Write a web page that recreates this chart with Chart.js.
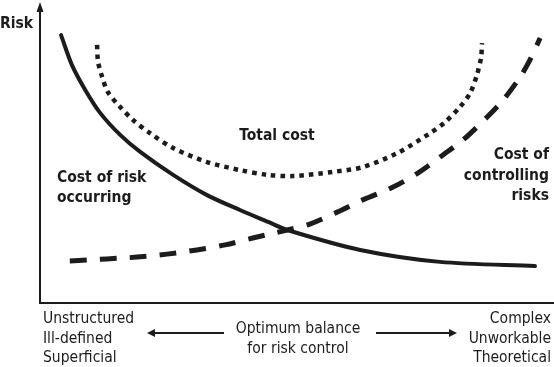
<!DOCTYPE html>
<html>
<head>
<meta charset="utf-8">
<script src="https://cdn.jsdelivr.net/npm/chart.js@4"></script>
<style>
  body { margin: 0; background: #fff; }
  #wrap { width: 554px; height: 367px; position: relative; }
</style>
</head>
<body>
<div id="wrap"><canvas id="riskChart"></canvas></div>
<script>
// curves (x = spread of control, y = risk / cost, both 0..100)
var riskX   = [4.1, 6.2, 8.8, 11.7, 15.6, 19.5, 25.9, 32.5, 38.9, 44.4, 48.1, 62.3, 77.8, 96.3];
var riskY   = [89.9, 79.9, 71.5, 63.8, 56.4, 50.7, 43.0, 36.2, 31.2, 27.2, 24.5, 17.8, 13.8, 12.4];

var controlX = [5.8, 13.0, 18.9, 24.7, 30.5, 36.0, 41.4, 48.1, 52.5, 57.8, 62.8, 68.7, 73.5, 78.4, 82.3, 87.0, 90.1, 93.4, 95.3, 97.3];
var controlY = [14.1, 14.8, 15.4, 16.4, 17.8, 19.5, 21.8, 24.5, 26.5, 30.5, 34.6, 38.9, 43.6, 49.7, 54.7, 62.4, 68.1, 75.8, 81.5, 88.9];

var totalX = [11.1, 11.3, 12.1, 13.2, 15.6, 18.1, 21.4, 25.9, 32.5, 38.9, 44.2, 49.2, 57.0, 62.8, 69.5, 75.9, 78.8, 81.7, 83.7, 85.0, 85.8, 86.0];
var totalY = [86.6, 80.9, 75.8, 70.8, 65.8, 61.4, 57.0, 52.0, 47.3, 44.6, 43.0, 42.6, 44.0, 45.6, 50.3, 57.0, 60.7, 65.8, 70.5, 76.5, 82.2, 87.2];

var leftWords  = ["Unstructured", "Ill-defined", "Superficial"];
var rightWords = ["Complex", "Unworkable", "Theoretical"];
var midWords   = ["Optimum balance", "for risk control"];

function toPoints(xs, ys) {
  return xs.map(function (x, i) { return { x: x, y: ys[i] }; });
}

var ink = "#1c1c1c";
var font = "'DejaVu Sans Condensed', 'DejaVu Sans', sans-serif";

function arrowHead(ctx, x, y, dir) {
  ctx.beginPath();
  ctx.moveTo(x, y);
  ctx.lineTo(x - dir * 8, y - 4);
  ctx.lineTo(x - dir * 8, y + 4);
  ctx.closePath();
  ctx.fill();
}

var decorations = {
  id: "decorations",
  afterDraw: function (chart) {
    var ctx = chart.ctx;
    var a = chart.chartArea;
    ctx.save();
    ctx.strokeStyle = ink;
    ctx.fillStyle = ink;
    ctx.lineWidth = 2;

    // axes
    ctx.beginPath();
    ctx.moveTo(a.left, a.top + 4);
    ctx.lineTo(a.left, a.bottom);
    ctx.lineTo(a.right, a.bottom);
    ctx.stroke();
    ctx.beginPath();
    ctx.moveTo(a.left, a.top - 3);
    ctx.lineTo(a.left - 3.5, a.top + 7);
    ctx.lineTo(a.left + 3.5, a.top + 7);
    ctx.closePath();
    ctx.fill();

    // bold labels
    ctx.font = "bold 15.5px " + font;
    ctx.textAlign = "left";
    ctx.fillText("Risk", 0, 28);
    ctx.fillText("Cost of risk", 57, 182);
    ctx.fillText("occurring", 57, 202);
    ctx.textAlign = "center";
    ctx.fillText("Total cost", 277, 140);
    ctx.textAlign = "right";
    ctx.fillText("Cost of", 549, 159);
    ctx.fillText("controlling", 549, 180);
    ctx.fillText("risks", 549, 200);

    // bottom captions
    ctx.font = "15.5px " + font;
    ctx.textAlign = "left";
    leftWords.forEach(function (w, i) { ctx.fillText(w, 43, 323 + i * 19.5); });
    ctx.textAlign = "right";
    rightWords.forEach(function (w, i) { ctx.fillText(w, 551, 323 + i * 19.5); });
    ctx.textAlign = "center";
    midWords.forEach(function (w, i) { ctx.fillText(w, 298, 333 + i * 20); });

    // arrows
    ctx.lineWidth = 2;
    ctx.beginPath();
    ctx.moveTo(224, 333); ctx.lineTo(154, 333);
    ctx.moveTo(376, 333); ctx.lineTo(452, 333);
    ctx.stroke();
    arrowHead(ctx, 147, 333, -1);
    arrowHead(ctx, 457, 333, 1);
    ctx.restore();
  }
};

new Chart(document.getElementById("riskChart").getContext("2d"), {
  type: "line",
  data: {
    datasets: [{
      label: "Cost of risk occurring",
      data: toPoints(riskX, riskY),
      borderColor: ink,
      borderWidth: 4,
      borderCapStyle: "round",
      pointRadius: 0
    }, {
      label: "Cost of controlling risks",
      data: toPoints(controlX, controlY),
      borderColor: ink,
      borderWidth: 5,
      borderDash: [17, 13],
      borderCapStyle: "butt",
      pointRadius: 0
    }, {
      label: "Total cost",
      data: toPoints(totalX, totalY),
      borderColor: ink,
      borderWidth: 4.5,
      borderDash: [4.5, 5],
      borderCapStyle: "butt",
      pointRadius: 0
    }]
  },
  options: {
    responsive: true,
    maintainAspectRatio: false,
    animation: false,
    layout: { padding: { left: 40, right: 0, top: 5, bottom: 64 } },
    plugins: { legend: { display: false }, tooltip: { enabled: false } },
    elements: { line: { tension: 0.3, fill: false } },
    scales: {
      x: { type: "linear", min: 0, max: 100, display: false },
      y: { min: 0, max: 100, display: false }
    }
  },
  plugins: [decorations]
});
</script>
</body>
</html>
